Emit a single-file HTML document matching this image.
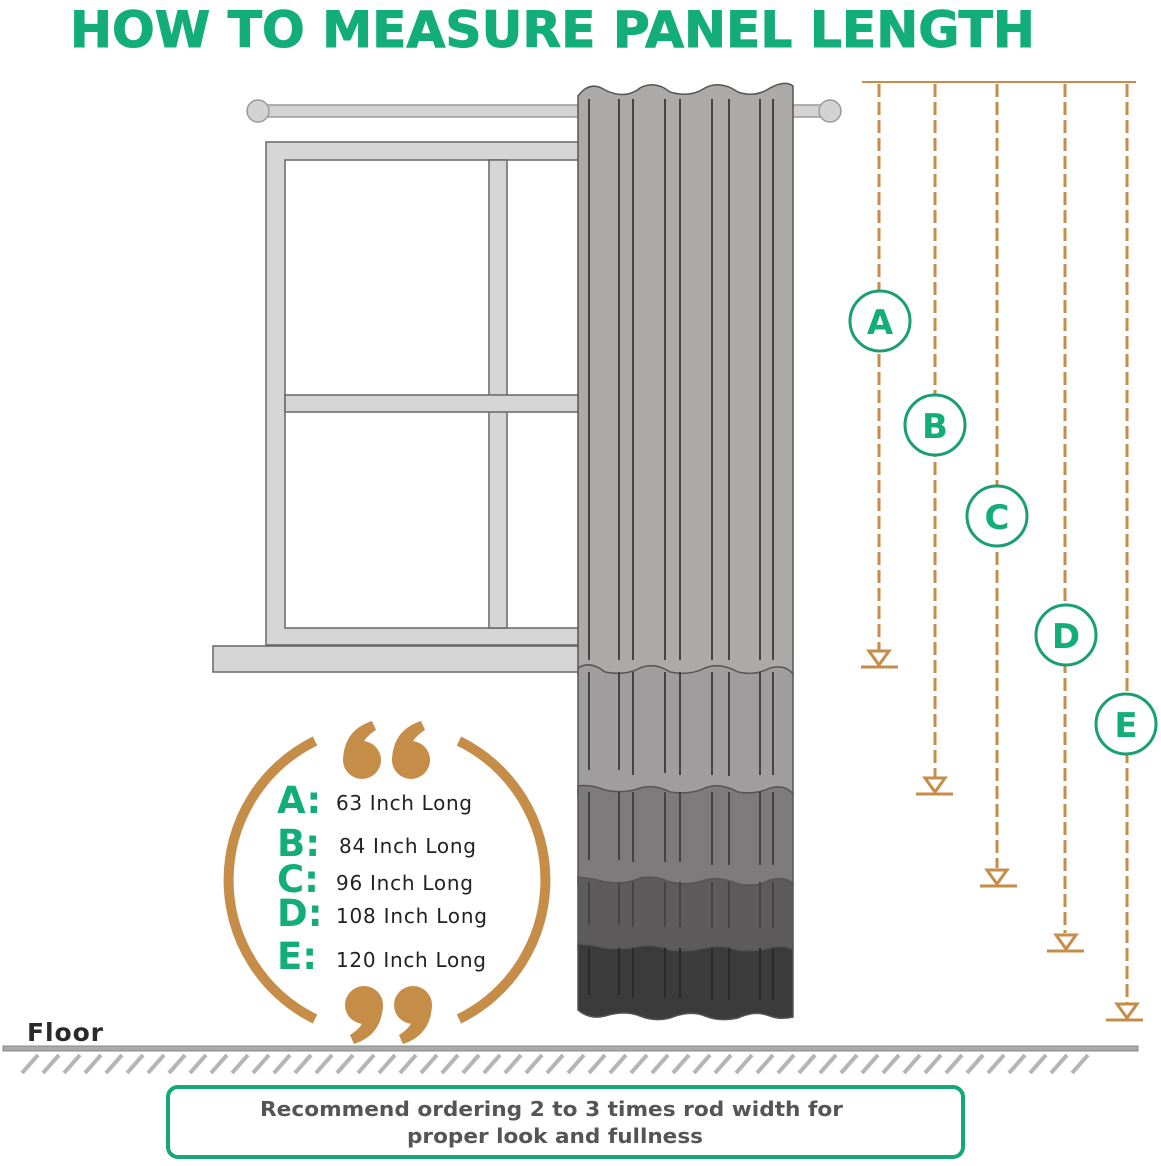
<!DOCTYPE html>
<html><head><meta charset="utf-8"><style>html,body{margin:0;padding:0;background:#fff}svg{display:block}</style></head><body>
<svg width="1161" height="1166" viewBox="0 0 1161 1166" xmlns="http://www.w3.org/2000/svg">
<text x="70" y="47" font-family="DejaVu Sans, sans-serif" font-weight="bold" font-size="50" fill="#13ad7a" stroke="#13ad7a" stroke-width="1" textLength="965" lengthAdjust="spacingAndGlyphs">HOW TO MEASURE PANEL LENGTH</text>

<rect x="258" y="105" width="572" height="12" fill="#d3d3d3" stroke="#9a9a9a" stroke-width="1.5"/>
<circle cx="258" cy="111" r="11" fill="#d3d3d3" stroke="#9a9a9a" stroke-width="1.5"/>
<circle cx="830" cy="111" r="11" fill="#d3d3d3" stroke="#9a9a9a" stroke-width="1.5"/>

<path d="M266 142 H580 V645 H266 Z M285 160 V628 H580 V160 Z" fill="#d6d6d6" stroke="#666" stroke-width="1.5" fill-rule="evenodd"/>
<rect x="489" y="160" width="18" height="468" fill="#d6d6d6" stroke="#666" stroke-width="1.5"/>
<rect x="285" y="395" width="295" height="17" fill="#d6d6d6" stroke="#666" stroke-width="1.5"/>
<rect x="213" y="646" width="367" height="26" fill="#d6d6d6" stroke="#666" stroke-width="1.5"/>

<g stroke="#555" stroke-width="1.5">
<path d="M578 96 Q590 80 605 90 Q625 100 640 88 Q655 80 670 92 Q690 98 705 88 Q720 80 738 92 Q755 98 770 88 Q785 80 793 86 V675 H578 Z" fill="#aca9a9"/>
<path d="M578 668 Q590 660 605 672 Q625 676 640 668 Q655 662 670 672 Q690 676 705 668 Q720 662 738 672 Q755 676 770 668 Q785 664 793 674 V795 H578 Z" fill="#9f9d9d"/>
<path d="M578 786 Q590 784 605 790 Q625 794 640 788 Q655 784 670 792 Q690 795 705 788 Q720 782 738 792 Q755 795 770 788 Q785 784 793 794 V885 H578 Z" fill="#7d7b7b"/>
<path d="M578 877 Q590 878 605 882 Q625 885 640 878 Q655 875 670 882 Q690 886 705 880 Q720 876 738 884 Q755 888 770 880 Q785 876 793 884 V950 H578 Z" fill="#5d5b5b"/>
<path d="M578 944 Q590 944 605 948 Q625 950 640 946 Q655 944 670 950 Q690 952 705 948 Q720 944 738 950 Q755 952 770 948 Q785 944 793 950 V1017 Q780 1020 770 1016 Q755 1010 738 1018 Q720 1022 705 1016 Q690 1010 670 1018 Q655 1022 640 1016 Q625 1010 605 1016 Q590 1020 578 1010 Z" fill="#3c3b3b"/>
</g>
<g stroke="#444" stroke-width="2">
<path d="M589 99V660 M619 99V660 M633 99V660 M665 99V660 M680 99V660 M712 99V660 M729 99V660 M760 99V660 M773 99V660"/>
<path d="M589 672V770 M619 672V770 M633 672V775 M665 672V773 M680 672V775 M712 672V775 M729 672V776 M760 672V775 M773 672V775"/>
<path d="M589 792V860 M619 792V860 M633 792V862 M665 792V862 M680 792V862 M712 792V865 M729 792V865 M760 792V865 M773 792V865"/>
<path d="M589 882V925 M619 882V925 M633 882V927 M665 882V927 M680 882V927 M712 882V928 M729 882V928 M760 882V928 M773 882V928"/>
<path d="M589 948V995 M619 948V995 M633 948V998 M665 948V998 M680 948V998 M712 948V1000 M729 948V1000 M760 948V1000 M773 948V1000" stroke="#2a2a2a"/>
</g>

<line x1="862" y1="82" x2="1136" y2="82" stroke="#c58d48" stroke-width="2"/>
<g stroke="#c58d48" stroke-width="3" fill="none" stroke-dasharray="13 5">
<line x1="879" y1="84" x2="879" y2="650"/>
<line x1="935" y1="84" x2="935" y2="780"/>
<line x1="997" y1="84" x2="997" y2="868"/>
<line x1="1065" y1="84" x2="1065" y2="933"/>
<line x1="1127" y1="84" x2="1127" y2="1005"/>
</g>
<g stroke="#c58d48" stroke-width="3" fill="#fff">
<path d="M869 651 H889 L879 665 Z"/><line x1="861" y1="667" x2="898" y2="667"/>
<path d="M925 778 H945 L935 792 Z"/><line x1="916" y1="794" x2="953" y2="794"/>
<path d="M987 870 H1007 L997 884 Z"/><line x1="980" y1="886" x2="1017" y2="886"/>
<path d="M1056 935 H1076 L1066 949 Z"/><line x1="1047" y1="951" x2="1084" y2="951"/>
<path d="M1117 1004 H1137 L1127 1018 Z"/><line x1="1106" y1="1020" x2="1143" y2="1020"/>
</g>
<g stroke="#1a9e73" stroke-width="3" fill="#fff">
<circle cx="880" cy="321" r="30"/><circle cx="935" cy="425" r="30"/><circle cx="997" cy="516" r="30"/><circle cx="1066" cy="635" r="30"/><circle cx="1126" cy="724" r="30"/>
</g>
<g font-family="DejaVu Sans, sans-serif" font-weight="bold" font-size="34" fill="#13ad7a" text-anchor="middle">
<text x="880" y="334">A</text><text x="935" y="438">B</text><text x="997" y="529">C</text><text x="1066" y="648">D</text><text x="1126" y="737">E</text>
</g>

<g stroke="#c58d48" stroke-width="10" fill="none">
<path d="M315 741 A155 155 0 0 0 315 1019"/>
<path d="M459 741 A155 155 0 0 1 459 1019"/>
</g>
<g fill="#c58d48">
<circle cx="362" cy="760" r="19"/><path d="M343 760 Q344 730 372 721 L376 730 Q360 740 362 752 Z"/>
<circle cx="411" cy="760" r="19"/><path d="M392 760 Q393 730 421 721 L425 730 Q409 740 411 752 Z"/>
<circle cx="364" cy="1005" r="19"/><path d="M383 1005 Q382 1035 354 1044 L350 1035 Q366 1025 364 1013 Z"/>
<circle cx="413" cy="1005" r="19"/><path d="M432 1005 Q431 1035 403 1044 L399 1035 Q415 1025 413 1013 Z"/>
</g>
<g font-family="DejaVu Sans, sans-serif" font-weight="bold" font-size="37" fill="#13ad7a">
<text x="277" y="813">A:</text><text x="277" y="856">B:</text><text x="277" y="892">C:</text><text x="277" y="926">D:</text><text x="277" y="969">E:</text>
</g>
<g font-family="DejaVu Sans, sans-serif" font-size="20" fill="#222">
<text x="336" y="810" textLength="136">63 Inch Long</text>
<text x="339" y="853" textLength="137">84 Inch Long</text>
<text x="336" y="890" textLength="137">96 Inch Long</text>
<text x="336" y="923" textLength="151">108 Inch Long</text>
<text x="336" y="967" textLength="150">120 Inch Long</text>
</g>

<text x="27" y="1041" font-family="DejaVu Sans, sans-serif" font-weight="bold" font-size="25" fill="#2a2a2a" textLength="76">Floor</text>
<rect x="3" y="1046" width="1135" height="5" fill="#aaa" stroke="#888" stroke-width="1"/>
<path d="M22 1073 L38 1055 M43 1073 L59 1055 M64 1073 L80 1055 M85 1073 L101 1055 M106 1073 L122 1055 M127 1073 L143 1055 M148 1073 L164 1055 M169 1073 L185 1055 M190 1073 L206 1055 M211 1073 L227 1055 M232 1073 L248 1055 M253 1073 L269 1055 M274 1073 L290 1055 M295 1073 L311 1055 M316 1073 L332 1055 M337 1073 L353 1055 M358 1073 L374 1055 M379 1073 L395 1055 M400 1073 L416 1055 M421 1073 L437 1055 M442 1073 L458 1055 M463 1073 L479 1055 M484 1073 L500 1055 M505 1073 L521 1055 M526 1073 L542 1055 M547 1073 L563 1055 M568 1073 L584 1055 M589 1073 L605 1055 M610 1073 L626 1055 M631 1073 L647 1055 M652 1073 L668 1055 M673 1073 L689 1055 M694 1073 L710 1055 M715 1073 L731 1055 M736 1073 L752 1055 M757 1073 L773 1055 M778 1073 L794 1055 M799 1073 L815 1055 M820 1073 L836 1055 M841 1073 L857 1055 M862 1073 L878 1055 M883 1073 L899 1055 M904 1073 L920 1055 M925 1073 L941 1055 M946 1073 L962 1055 M967 1073 L983 1055 M988 1073 L1004 1055 M1009 1073 L1025 1055 M1030 1073 L1046 1055 M1051 1073 L1067 1055 M1072 1073 L1088 1055" stroke="#b5b5b5" stroke-width="4"/>

<rect x="168" y="1087" width="795" height="70" rx="10" fill="#fff" stroke="#16a878" stroke-width="4"/>
<g font-family="DejaVu Sans, sans-serif" font-weight="bold" font-size="20" fill="#555">
<text x="260" y="1116" textLength="583" lengthAdjust="spacingAndGlyphs">Recommend ordering 2 to 3 times rod width for</text>
<text x="407" y="1143" textLength="296" lengthAdjust="spacingAndGlyphs">proper look and fullness</text>
</g>
</svg>
</body></html>
